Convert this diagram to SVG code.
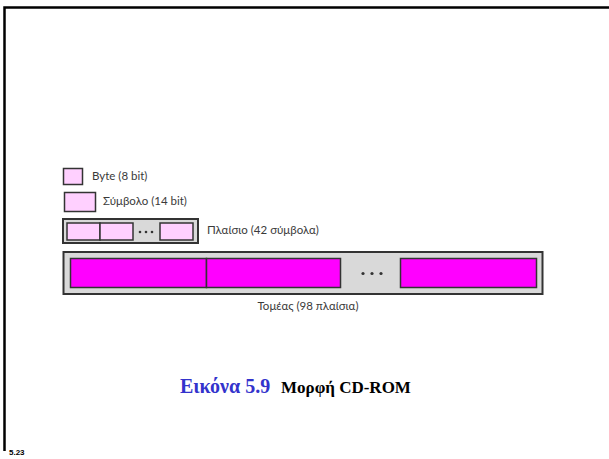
<svg xmlns="http://www.w3.org/2000/svg" width="609" height="459" viewBox="0 0 609 459">
<style>
.lbl{font-family:Lato,"Open Sans","Liberation Sans",sans-serif;font-size:11.5px;fill:#3a3a3a}
.pink{fill:#ffd0ff;stroke:#333;stroke-width:1.5}
.mag{fill:#ff00ff;stroke:#333;stroke-width:1.5}
.grey{fill:#d9d9d9;stroke:#333;stroke-width:2}
.dot{fill:#333}
</style>
<rect width="609" height="459" fill="#fff"/>
<path d="M4.5,451 V7.5 H609" fill="none" stroke="#000" stroke-width="2.5"/>
<g id="byte">
<rect class="pink" x="63.5" y="168.5" width="19" height="16"/>
<text class="lbl" x="92" y="180">Byte (8 bit)</text>
</g>
<g id="symbol">
<rect class="pink" x="64.5" y="192.5" width="31" height="19"/>
<text class="lbl" x="103" y="205">Σύμβολο (14 bit)</text>
</g>
<g id="frame">
<rect class="grey" x="63" y="219" width="135" height="24"/>
<rect class="pink" x="67" y="223" width="33" height="17"/>
<rect class="pink" x="100" y="223" width="33" height="17"/>
<circle class="dot" cx="140" cy="232" r="1.3"/>
<circle class="dot" cx="146" cy="232" r="1.3"/>
<circle class="dot" cx="152" cy="232" r="1.3"/>
<rect class="pink" x="160" y="223" width="33" height="17"/>
<text class="lbl" x="207" y="234">Πλαίσιο (42 σύμβολα)</text>
</g>
<g id="sector">
<rect class="grey" x="63.5" y="252" width="479" height="42"/>
<rect class="mag" x="70.5" y="258.5" width="136" height="29"/>
<rect class="mag" x="206.5" y="258.5" width="134" height="29"/>
<circle class="dot" cx="363" cy="273.5" r="1.6"/>
<circle class="dot" cx="372" cy="273.5" r="1.6"/>
<circle class="dot" cx="381" cy="273.5" r="1.6"/>
<rect class="mag" x="400.5" y="258.5" width="136" height="29"/>
<text class="lbl" x="308" y="310" text-anchor="middle">Τομέας (98 πλαίσια)</text>
</g>
<g id="caption">
<text x="180" y="393" font-family="'Liberation Serif',serif" font-weight="bold" font-size="20" fill="#3333cc">Εικόνα 5.9</text>
<text x="281" y="393" font-family="'Liberation Serif',serif" font-weight="bold" font-size="17" fill="#000">Μορφή CD-ROM</text>
</g>
<text x="9" y="455" font-family="'Liberation Sans',sans-serif" font-weight="bold" font-size="8" fill="#000">5.23</text>
</svg>
